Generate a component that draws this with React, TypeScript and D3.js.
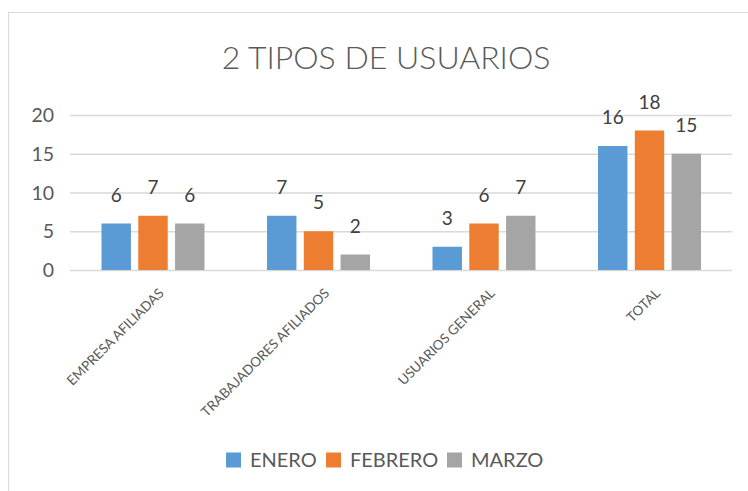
import * as d3 from "d3";

const categories = ["EMPRESA AFILIADAS", "TRABAJADORES AFILIADOS", "USUARIOS GENERAL", "TOTAL"];
const seriesNames = ["ENERO", "FEBRERO", "MARZO"];
const enero = [6, 7, 3, 16];
const febrero = [7, 5, 6, 18];
const marzo = [6, 2, 7, 15];
const yTicks = [0, 5, 10, 15, 20];
const colors = ["#5B9BD5", "#ED7D31", "#A5A5A5"];

const W = 748;
const H = 491;
const FONT = "Lato, 'Open Sans', sans-serif";

function App() {
  const values = [enero, febrero, marzo];

  const x = d3.scaleBand().domain(categories).range([70, 732]).padding(0);
  const xSeries = d3
    .scaleBand()
    .domain(seriesNames)
    .range([31.5, 134.5])
    .paddingInner(0.2);
  const y = d3.scaleLinear().domain([0, 20]).range([270, 115]);

  // legend layout
  const legendItems = [
    { name: "ENERO", x: 226 },
    { name: "FEBRERO", x: 326 },
    { name: "MARZO", x: 447 },
  ];

  return (
    <svg
      width={W}
      height={H}
      style={{ position: "absolute", left: 0, top: 0, background: "#fff" }}
      fontFamily={FONT}
    >
      <rect x={8.5} y={12.5} width={780} height={520} fill="#fff" stroke="#D9D9D9" />

      <text x={386} y={69} textAnchor="middle" fontSize={32} fontWeight={300} fill="#595959">
        2 TIPOS DE USUARIOS
      </text>

      {yTicks.map((t) => (
        <g key={t}>
          <line x1={70} x2={732} y1={y(t) + 0.5} y2={y(t) + 0.5} stroke="#D9D9D9" strokeWidth={1.5} />
          <text x={54} y={y(t) + 7} textAnchor="end" fontSize={19.5} fill="#595959">
            {t}
          </text>
        </g>
      ))}

      {categories.map((c, ci) => (
        <g key={c} transform={`translate(${x(c)},0)`}>
          {seriesNames.map((s, si) => {
            const v = values[si][ci];
            const bx = xSeries(s) as number;
            return (
              <g key={s}>
                <rect
                  x={bx}
                  y={y(v)}
                  width={xSeries.bandwidth()}
                  height={y(0) - y(v)}
                  fill={colors[si]}
                />
                <text
                  x={bx + xSeries.bandwidth() / 2}
                  y={y(v) - 22}
                  textAnchor="middle"
                  fontSize={19}
                  fill="#404040"
                >
                  {v}
                </text>
              </g>
            );
          })}
        </g>
      ))}

      {categories.map((c) => {
        const cx = (x(c) as number) + x.bandwidth() / 2 + 12;
        return (
          <text
            key={c}
            transform={`translate(${cx},294) rotate(-45)`}
            textAnchor="end"
            fontSize={13.5}
            fill="#595959"
          >
            {c}
          </text>
        );
      })}

      {legendItems.map((l, i) => (
        <g key={l.name}>
          <rect x={l.x} y={452.5} width={15} height={15} fill={colors[i]} />
          <text x={l.x + 24} y={467} fontSize={20} fill="#595959">
            {l.name}
          </text>
        </g>
      ))}
    </svg>
  );
}

export default App;
